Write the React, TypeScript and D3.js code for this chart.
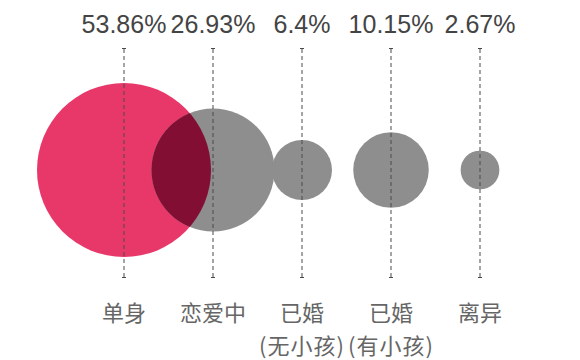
import React from "react";
import * as d3 from "d3";

const categories = ["单身", "恋爱中", "已婚", "已婚", "离异"];
const subLabels = ["", "", "(无小孩)", "(有小孩)", ""];
const values = [53.86, 26.93, 6.4, 10.15, 2.67];
const valueLabels = ["53.86%", "26.93%", "6.4%", "10.15%", "2.67%"];

const W = 580;
const H = 360;
const cy = 170;

export default function App() {
  const x = d3
    .scalePoint<number>()
    .domain(values.map((_, i) => i))
    .range([124, 480]);
  const r = d3.scaleSqrt().domain([0, 53.86]).range([0, 87]);

  const x0 = x(0) as number;
  const r0 = r(values[0]);

  return (
    <svg
      width={W}
      height={H}
      style={{ position: "absolute", left: 0, top: 0, background: "#fff" }}
    >
      <defs>
        <clipPath id="clipRed">
          <circle cx={x0} cy={cy} r={r0} />
        </clipPath>
      </defs>
      {values.map((v, i) => (
        <circle
          key={"c" + i}
          cx={x(i)}
          cy={cy}
          r={r(v)}
          fill={i === 0 ? "#e8386a" : "#8e8e8e"}
        />
      ))}
      {/* overlap of the red and the second circle */}
      <circle
        cx={x(1)}
        cy={cy}
        r={r(values[1])}
        fill="#820e34"
        clipPath="url(#clipRed)"
      />
      {values.map((_, i) => (
        <g key={"l" + i} stroke="#4a4a4a" strokeWidth={1}>
          <line
            x1={x(i)}
            x2={x(i)}
            y1={49}
            y2={277}
            strokeDasharray="4,3"
          />
          <line x1={(x(i) as number) - 2} x2={(x(i) as number) + 2} y1={48.5} y2={48.5} />
          <line x1={(x(i) as number) - 2} x2={(x(i) as number) + 2} y1={277.5} y2={277.5} />
        </g>
      ))}
      {valueLabels.map((t, i) => (
        <text
          key={"v" + i}
          x={x(i)}
          y={33}
          textAnchor="middle"
          fontFamily="Liberation Sans, Arial, sans-serif"
          fontSize={25}
          fill="#444"
        >
          {t}
        </text>
      ))}
      {categories.map((t, i) => (
        <text
          key={"n" + i}
          x={x(i)}
          y={311}
          dominantBaseline="central"
          textAnchor="middle"
          fontFamily="Noto Sans CJK SC, sans-serif"
          fontSize={22}
          fill="#666"
        >
          {t}
        </text>
      ))}
      {subLabels.map((t, i) =>
        t ? (
          <text
            key={"s" + i}
            x={x(i)}
            y={343.5}
            dominantBaseline="central"
            textAnchor="middle"
            fontFamily="Noto Sans CJK SC, sans-serif"
            fontSize={22}
            fill="#666"
            letterSpacing={1}
          >
            {t}
          </text>
        ) : null
      )}
    </svg>
  );
}
